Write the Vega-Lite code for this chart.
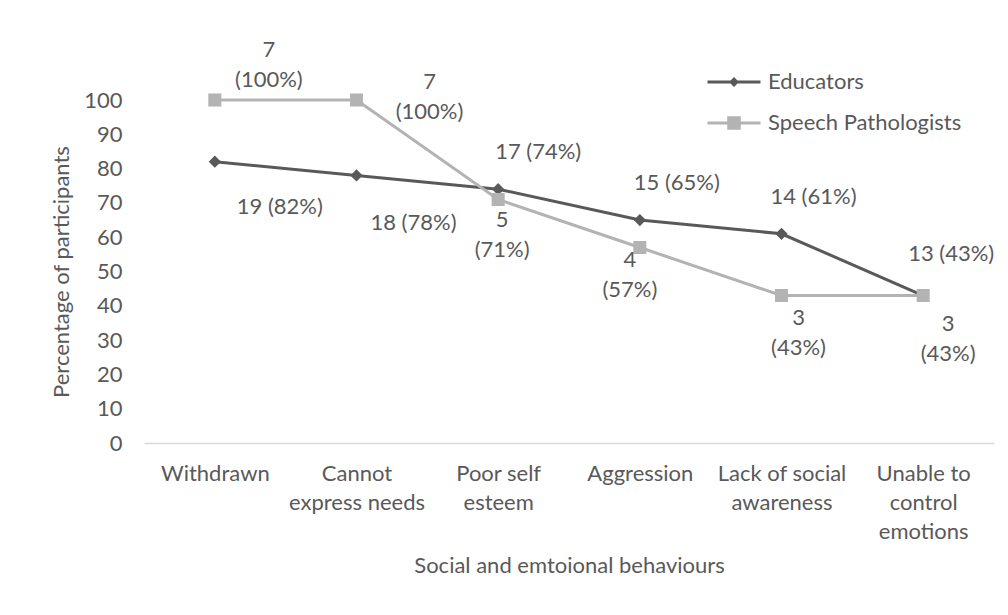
{
  "$schema": "https://vega.github.io/schema/vega-lite/v6.json",
  "autosize": "none",
  "width": 850,
  "height": 343,
  "padding": {"left": 144, "top": 100, "right": 14, "bottom": 172},
  "background": "white",
  "config": {
    "view": {"stroke": null},
    "font": "Lato",
    "text": {"font": "Lato", "fontSize": 22, "color": "#595959", "lineHeight": 30, "align": "center", "baseline": "middle"}
  },
  "data": {
    "values": [
      {"behaviour": "Withdrawn", "group": "Educators", "count": 19, "pct": 82, "label": "19 (82%)"},
      {"behaviour": "Cannot express needs", "group": "Educators", "count": 18, "pct": 78, "label": "18 (78%)"},
      {"behaviour": "Poor self esteem", "group": "Educators", "count": 17, "pct": 74, "label": "17 (74%)"},
      {"behaviour": "Aggression", "group": "Educators", "count": 15, "pct": 65, "label": "15 (65%)"},
      {"behaviour": "Lack of social awareness", "group": "Educators", "count": 14, "pct": 61, "label": "14 (61%)"},
      {"behaviour": "Unable to control emotions", "group": "Educators", "count": 13, "pct": 43, "label": "13 (43%)"},
      {"behaviour": "Withdrawn", "group": "Speech Pathologists", "count": 7, "pct": 100, "label": "7\n(100%)"},
      {"behaviour": "Cannot express needs", "group": "Speech Pathologists", "count": 7, "pct": 100, "label": "7\n(100%)"},
      {"behaviour": "Poor self esteem", "group": "Speech Pathologists", "count": 5, "pct": 71, "label": "5\n(71%)"},
      {"behaviour": "Aggression", "group": "Speech Pathologists", "count": 4, "pct": 57, "label": "4\n(57%)"},
      {"behaviour": "Lack of social awareness", "group": "Speech Pathologists", "count": 3, "pct": 43, "label": "3\n(43%)"},
      {"behaviour": "Unable to control emotions", "group": "Speech Pathologists", "count": 3, "pct": 43, "label": "3\n(43%)"}
    ]
  },
  "encoding": {
    "x": {
      "field": "behaviour",
      "type": "nominal",
      "sort": ["Withdrawn", "Cannot express needs", "Poor self esteem", "Aggression", "Lack of social awareness", "Unable to control emotions"],
      "scale": {"type": "point", "padding": 0.5},
      "axis": {
        "title": "Social and emtoional behaviours",
        "titleFont": "Lato",
        "titleFontSize": 22,
        "titleFontWeight": "normal",
        "titleColor": "#595959",
        "titlePadding": 13,
        "labelAngle": 0,
        "labelFont": "Lato",
        "labelFontSize": 22,
        "labelColor": "#595959",
        "labelLineHeight": 29,
        "labelBaseline": "top",
        "labelPadding": 20,
        "labelLimit": 300,
        "ticks": false,
        "grid": false,
        "domainColor": "#d9d9d9",
        "domainWidth": 1.5,
        "labelExpr": "datum.value == 'Cannot express needs' ? ['Cannot', 'express needs'] : datum.value == 'Poor self esteem' ? ['Poor self', 'esteem'] : datum.value == 'Lack of social awareness' ? ['Lack of social', 'awareness'] : datum.value == 'Unable to control emotions' ? ['Unable to', 'control', 'emotions'] : datum.value"
      }
    },
    "y": {
      "field": "pct",
      "type": "quantitative",
      "scale": {"domain": [0, 100], "nice": false},
      "axis": {
        "title": "Percentage of participants",
        "titleFont": "Lato",
        "titleFontSize": 22,
        "titleFontWeight": "normal",
        "titleColor": "#595959",
        "titlePadding": 10,
        "values": [0, 10, 20, 30, 40, 50, 60, 70, 80, 90, 100],
        "labelFont": "Lato",
        "labelFontSize": 22,
        "labelColor": "#595959",
        "labelPadding": 22,
        "ticks": false,
        "grid": false,
        "domain": false
      }
    }
  },
  "layer": [
    {
      "mark": {"type": "point", "filled": true, "opacity": 0},
      "encoding": {
        "color": {
          "field": "group",
          "type": "nominal",
          "scale": {"domain": ["Educators", "Speech Pathologists"], "range": ["#595959", "#b3b3b3"]},
          "legend": {
            "title": null,
            "orient": "none",
            "legendX": 579,
            "legendY": -29,
            "padding": 0,
            "rowPadding": 19,
            "symbolSize": 400,
            "symbolOpacity": 1,
            "symbolStrokeWidth": 0,
            "labelFont": "Lato",
            "labelFontSize": 22,
            "labelColor": "#595959",
            "labelOffset": 23,
            "labelLimit": 400
          }
        },
        "shape": {
          "field": "group",
          "type": "nominal",
          "scale": {"domain": ["Educators", "Speech Pathologists"], "range": ["M-2.65,-0.15H2.65V0.15H-2.65ZM0,-0.5L0.5,0L0,0.5L-0.5,0Z", "M-2.65,-0.15H2.65V0.15H-2.65ZM-0.68,-0.68H0.68V0.68H-0.68Z"]},
          "legend": null
        }
      }
    },
    {
      "mark": {"type": "line", "strokeWidth": 3},
      "encoding": {"color": {"field": "group", "type": "nominal"}}
    },
    {
      "transform": [{"filter": "datum.group == 'Educators'"}],
      "mark": {"type": "point", "filled": true, "opacity": 1, "shape": "diamond", "size": 150},
      "encoding": {"color": {"field": "group", "type": "nominal"}}
    },
    {
      "transform": [{"filter": "datum.group == 'Speech Pathologists'"}],
      "mark": {"type": "point", "filled": true, "opacity": 1, "shape": "square", "size": 170},
      "encoding": {"color": {"field": "group", "type": "nominal"}}
    },
    {"transform": [{"filter": "datum.group == 'Educators' && datum.behaviour == 'Withdrawn'"}], "mark": {"type": "text", "dx": 65, "dy": 45, "lineBreak": "\n"}, "encoding": {"text": {"field": "label"}}},
    {"transform": [{"filter": "datum.group == 'Educators' && datum.behaviour == 'Cannot express needs'"}], "mark": {"type": "text", "dx": 57, "dy": 48, "lineBreak": "\n"}, "encoding": {"text": {"field": "label"}}},
    {"transform": [{"filter": "datum.group == 'Educators' && datum.behaviour == 'Poor self esteem'"}], "mark": {"type": "text", "dx": 40, "dy": -37, "lineBreak": "\n"}, "encoding": {"text": {"field": "label"}}},
    {"transform": [{"filter": "datum.group == 'Educators' && datum.behaviour == 'Aggression'"}], "mark": {"type": "text", "dx": 37, "dy": -37, "lineBreak": "\n"}, "encoding": {"text": {"field": "label"}}},
    {"transform": [{"filter": "datum.group == 'Educators' && datum.behaviour == 'Lack of social awareness'"}], "mark": {"type": "text", "dx": 32, "dy": -37, "lineBreak": "\n"}, "encoding": {"text": {"field": "label"}}},
    {"transform": [{"filter": "datum.group == 'Educators' && datum.behaviour == 'Unable to control emotions'"}], "mark": {"type": "text", "dx": 28, "dy": -42, "lineBreak": "\n"}, "encoding": {"text": {"field": "label"}}},
    {"transform": [{"filter": "datum.group == 'Speech Pathologists' && datum.behaviour == 'Withdrawn'"}], "mark": {"type": "text", "dx": 54, "dy": -50, "lineBreak": "\n"}, "encoding": {"text": {"field": "label"}}},
    {"transform": [{"filter": "datum.group == 'Speech Pathologists' && datum.behaviour == 'Cannot express needs'"}], "mark": {"type": "text", "dx": 73, "dy": -18, "lineBreak": "\n"}, "encoding": {"text": {"field": "label"}}},
    {"transform": [{"filter": "datum.group == 'Speech Pathologists' && datum.behaviour == 'Poor self esteem'"}], "mark": {"type": "text", "dx": 4, "dy": 21, "lineBreak": "\n"}, "encoding": {"text": {"field": "label"}}},
    {"transform": [{"filter": "datum.group == 'Speech Pathologists' && datum.behaviour == 'Aggression'"}], "mark": {"type": "text", "dx": -10, "dy": 13, "lineBreak": "\n"}, "encoding": {"text": {"field": "label"}}},
    {"transform": [{"filter": "datum.group == 'Speech Pathologists' && datum.behaviour == 'Lack of social awareness'"}], "mark": {"type": "text", "dx": 17, "dy": 22, "lineBreak": "\n"}, "encoding": {"text": {"field": "label"}}},
    {"transform": [{"filter": "datum.group == 'Speech Pathologists' && datum.behaviour == 'Unable to control emotions'"}], "mark": {"type": "text", "dx": 25, "dy": 28, "lineBreak": "\n"}, "encoding": {"text": {"field": "label"}}}
  ]
}
